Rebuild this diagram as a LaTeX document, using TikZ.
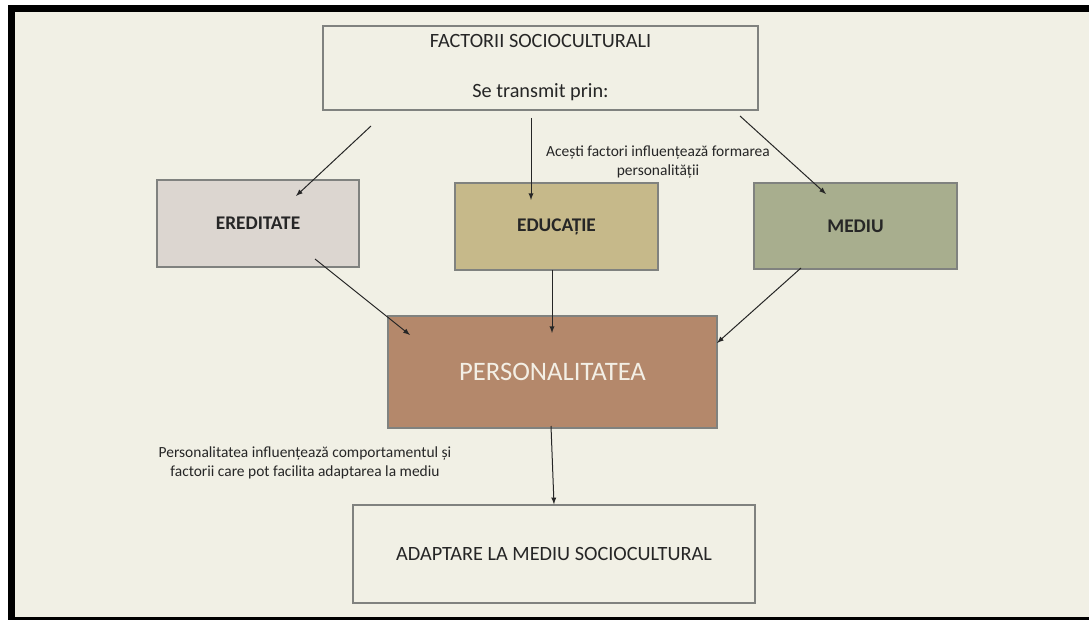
\documentclass[tikz,border=0pt]{standalone}
\usepackage{fontspec}
\setmainfont{Carlito}
\usepackage{tikz}
\definecolor{bgcream}{HTML}{F1F0E5}
\definecolor{edgegray}{HTML}{80827F}
\definecolor{inkdark}{HTML}{262626}
\definecolor{ereditatefill}{HTML}{DCD6D0}
\definecolor{educatiefill}{HTML}{C6B98A}
\definecolor{mediufill}{HTML}{A8AE8E}
\definecolor{personfill}{HTML}{B4886B}
\definecolor{personink}{HTML}{F3EFE5}
\tikzset{
	>=latex,
	box/.style = {draw = edgegray, line width = 1pt, text = inkdark, align = center, inner sep = 0pt},
	note/.style = {text = inkdark, align = center, font = \fontsize{11.6}{14.25}\selectfont},
	link/.style = {->, line width = 0.75pt, draw = inkdark}
}

\begin{document}
\begin{tikzpicture}[x = 0.75pt, y = -0.75pt]
	\useasboundingbox (0,0) rectangle (1089,620);
	\fill[white] (0,0) rectangle (1089,620);
	\fill[bgcream] (8,5) rectangle (1089,620);
	\fill[black] (8,5) rectangle (1089,12);
	\fill[black] (8,5) rectangle (15,620);
	\fill[black] (8,617) rectangle (1089,620);
	\node[box, fill = bgcream, minimum width = 326.25pt, minimum height = 63pt, font = \fontsize{15.2}{37.5}\selectfont] (F) at (540.5,68) {FACTORII SOCIOCULTURALI\\Se transmit prin:};
	\node[box, fill = ereditatefill, minimum width = 151.5pt, minimum height = 65.25pt, font = \fontsize{14.5}{17}\selectfont\bfseries] (E) at (258,223.5) {EREDITATE};
	\node[box, fill = educatiefill, minimum width = 152.25pt, minimum height = 65.25pt, font = \fontsize{14.5}{17}\selectfont\bfseries] (D) at (556.5,226.5) {EDUCAȚIE};
	\node[box, fill = mediufill, minimum width = 152.25pt, minimum height = 64.5pt, font = \fontsize{14.5}{17}\selectfont\bfseries] (M) at (855.5,226) {MEDIU};
	\node[box, fill = personfill, text = personink, minimum width = 246.75pt, minimum height = 84pt, font = \fontsize{20}{24}\selectfont] (P) at (552.5,372) {PERSONALITATEA};
	\node[box, fill = bgcream, minimum width = 301.5pt, minimum height = 73.5pt, font = \fontsize{15.2}{18}\selectfont] (A) at (554,554) {ADAPTARE LA MEDIU SOCIOCULTURAL};
	\node[note] (n1) at (658,162) {Acești factori influențează formarea\\personalității};
	\node[note] (n2) at (305,463) {Personalitatea influențează comportamentul și\\factorii care pot facilita adaptarea la mediu};
	\coordinate (F1) at (371,126);
	\coordinate (F2) at (531,118);
	\coordinate (F3) at (740,116);
	\coordinate (E1) at (296,196);
	\coordinate (D1) at (531,200);
	\coordinate (M1) at (826,194);
	\coordinate (E2) at (315,259);
	\coordinate (D2) at (552,270);
	\coordinate (M2) at (801,268);
	\coordinate (P1) at (410,335);
	\coordinate (P2) at (552,333);
	\coordinate (P3) at (717,343);
	\coordinate (P4) at (551,426);
	\draw[link] (F1) -- (E1);
	\draw[link] (F2) -- (D1);
	\draw[link] (F3) -- (M1);
	\draw[link] (E2) -- (P1);
	\draw[link] (D2) -- (P2);
	\draw[link] (M2) -- (P3);
	\draw[link] (P4) -- (A.north);
\end{tikzpicture}
\end{document}
